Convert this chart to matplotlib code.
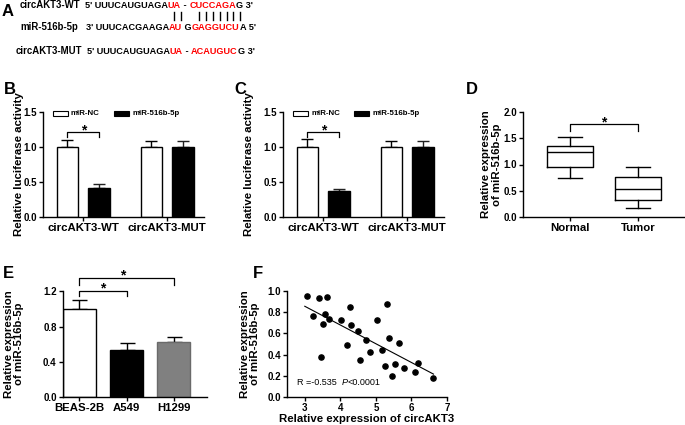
import matplotlib
matplotlib.use('Agg')
import matplotlib.pyplot as plt
from matplotlib.patches import Rectangle
from matplotlib.lines import Line2D
import numpy as np

# ---------------- data ----------------
# Panel A sequences (text segments, colour flag: 1 = red)
seq_wt = [("5' UUUCAUGUAGA", 0), ("UA", 1), (" - ", 0), ("CUCCAGA", 1), ("G 3'", 0)]
seq_mir = [("3' UUUCACGAAGA", 0), ("AU", 1), (" G", 0), ("GAGGUCU", 1), ("A 5'", 0)]
seq_mut = [("5' UUUCAUGUAGA", 0), ("UA", 1), (" - ", 0), ("ACAUGUC", 1), ("G 3'", 0)]
row_names = ["circAKT3-WT", "miR-516b-5p", "circAKT3-MUT"]

# Panels B / C
groups = ['circAKT3-WT', 'circAKT3-MUT']
legend_labels = ['miR-NC', 'miR-516b-5p']
b_nc = [1.0, 1.0]
b_nc_err = [0.095, 0.085]
b_mir = [0.41, 1.0]
b_mir_err = [0.06, 0.09]
c_nc = [1.0, 1.0]
c_nc_err = [0.115, 0.085]
c_mir = [0.375, 1.0]
c_mir_err = [0.025, 0.09]

# Panel D (box plot stats)
d_groups = ['Normal', 'Tumor']
d_whislo = [0.75, 0.18]
d_q1 = [0.95, 0.33]
d_med = [1.24, 0.54]
d_q3 = [1.35, 0.76]
d_whishi = [1.53, 0.95]

# Panel E
e_groups = ['BEAS-2B', 'A549', 'H1299']
e_vals = [1.0, 0.53, 0.63]
e_err = [0.10, 0.085, 0.055]

# Panel F
f_x = [3.06, 3.24, 3.40, 3.56, 3.62, 3.50, 3.67, 3.46, 4.02, 4.27, 4.31, 4.20, 4.50, 4.55,
       4.71, 4.84, 5.04, 5.18, 5.26, 5.32, 5.37, 5.46, 5.54, 5.66, 5.80, 6.10, 6.19, 6.62]
f_y = [0.95, 0.765, 0.93, 0.78, 0.94, 0.69, 0.74, 0.38, 0.73, 0.845, 0.675, 0.49, 0.625, 0.35,
       0.535, 0.42, 0.725, 0.44, 0.29, 0.875, 0.555, 0.20, 0.315, 0.51, 0.27, 0.24, 0.325, 0.18]
fit_x = [3.0, 6.62]
fit_y = [0.856, 0.216]
r_text = "R =-0.535  "
p_text = "<0.0001"

# ---------------- style ----------------
plt.rcParams['font.family'] = ['Liberation Sans', 'DejaVu Sans']
plt.rcParams['font.weight'] = 'bold'
plt.rcParams['axes.labelweight'] = 'bold'
plt.rcParams['axes.linewidth'] = 1.0

W, H = 685, 425
fig = plt.figure(figsize=(6.85, 4.25), dpi=100)


def fx(x):
    return x / W


def fy(y):
    return 1 - y / H


def add_ax(l, t, r, b):
    return fig.add_axes([fx(l), fy(b), (r - l) / W, (b - t) / H])


def style(ax):
    for s in ['top', 'right']:
        ax.spines[s].set_visible(False)
    ax.tick_params(direction='out', length=3, width=1.0, labelsize=7, pad=1.5)


def ftext(x, y, s, **kw):
    return fig.text(fx(x), fy(y), s, **kw)


def chain(x, y, segs, **kw):
    """Draw text segments one after another, starting at pixel (x, y)."""
    prev = None
    for s, col, extra in segs:
        k = dict(kw)
        k.update(extra)
        if prev is None:
            prev = ftext(x, y, s, ha='left', va='bottom', color=col, **k)
        else:
            prev = fig.text(0, 0, s, ha='left', va='bottom', color=col, **k)
            prev_ref = chain.last
            prev.set_transform(matplotlib.transforms.IdentityTransform())
            prev.set_position((0, 0))
            ann = fig.add_artist(matplotlib.text.Annotation(
                s, xy=(1, 0), xycoords=prev_ref, ha='left', va='bottom', color=col, **k))
            prev.remove()
            prev = ann
        chain.last = prev
    return prev


chain.last = None

# ---------------- Panel A ----------------
ftext(7.5, 11, 'A', fontsize=12, ha='center', va='center')
rows = [(seq_wt, 5, 20, 85), (seq_mir, 27, 20, 86), (seq_mut, 51, 16, 87)]
for (segs, yy, xn, xs), name in zip(rows, row_names):
    ftext(xn, yy, name, fontsize=6.9, ha='left', va='center')
    chain(xs, yy + 5, [(s, '#ff0000' if red else 'black', {}) for s, red in segs],
          fontsize=6.6)
for xv in [174, 181, 199, 206, 213, 220, 227, 233, 240]:
    fig.add_artist(Line2D([fx(xv), fx(xv)], [fy(11.7), fy(20)], color='black', lw=1.0))


# ---------------- Panels B, C ----------------
def lucif(ax, nc, nc_err, mir, mir_err):
    style(ax)
    x = np.arange(len(groups))
    off, w = 0.188, 0.257
    ax.bar(x - off, nc, w, color='white', edgecolor='black', lw=1.0, zorder=2)
    ax.bar(x + off, mir, w, color='black', edgecolor='black', lw=1.0, zorder=2)
    ax.errorbar(x - off, nc, yerr=[np.zeros(len(nc)), nc_err], fmt='none', ecolor='black',
                elinewidth=1.0, capsize=4.3, capthick=1.0, zorder=1)
    ax.errorbar(x + off, mir, yerr=[np.zeros(len(mir)), mir_err], fmt='none', ecolor='#222222',
                elinewidth=1.0, capsize=4.3, capthick=1.0, zorder=1)
    ax.set_xlim(-0.48, 1.44)
    ax.set_ylim(0, 1.5)
    ax.set_yticks([0, 0.5, 1.0, 1.5])
    ax.set_yticklabels(['0.0', '0.5', '1.0', '1.5'])
    ax.set_xticks(x)
    ax.set_xticklabels(groups, fontsize=8.2)
    ax.plot([-off, -off, off, off], [1.14, 1.22, 1.22, 1.14], color='black', lw=0.9,
            clip_on=False)
    ax.text(0, 1.175, '*', ha='center', va='baseline', fontsize=10)


axB = add_ax(43, 112, 204, 217)
lucif(axB, b_nc, b_nc_err, b_mir, b_mir_err)
axC = add_ax(283, 112, 444, 217)
lucif(axC, c_nc, c_nc_err, c_mir, c_mir_err)

for dx, lab in [(0, 'B'), (230, 'C')]:
    ftext(10 + dx, 89, lab, fontsize=12, ha='center', va='center')
    ftext(19 + dx, 164.5, 'Relative luciferase activity', fontsize=8.2, rotation=90,
          ha='center', va='center')

for x0, x1, xt0, x2, x3, xt1 in [(53.3, 68.3, 70.7, 114.3, 129.3, 132.3),
                                 (293.3, 308.3, 311, 354, 369.3, 372.3)]:
    fig.add_artist(Rectangle((fx(x0), fy(115.7)), (x1 - x0) / W, 5 / H, facecolor='white',
                             edgecolor='black', lw=0.8, transform=fig.transFigure))
    fig.add_artist(Rectangle((fx(x2), fy(115.7)), (x3 - x2) / W, 5 / H, facecolor='black',
                             edgecolor='black', lw=0.8, transform=fig.transFigure))
    ftext(xt0, 113.2, legend_labels[0], fontsize=5.7, ha='left', va='center')
    ftext(xt1, 113.2, legend_labels[1], fontsize=5.7, ha='left', va='center')

# ---------------- Panel D ----------------
axD = add_ax(523, 112, 685, 217)
style(axD)
stats = [dict(med=m, q1=a, q3=b, whislo=lo, whishi=hi, fliers=[])
         for m, a, b, lo, hi in zip(d_med, d_q1, d_q3, d_whislo, d_whishi)]
axD.bxp(stats, positions=[1, 2], widths=0.68, capwidths=0.34, showfliers=False,
        boxprops=dict(lw=1.0, color='black'), whiskerprops=dict(lw=1.0, color='black'),
        capprops=dict(lw=1.0, color='black'), medianprops=dict(lw=1.0, color='black'))
axD.set_xlim(0.31, 2.69)
axD.set_ylim(0, 2.0)
axD.set_yticks([0, 0.5, 1.0, 1.5, 2.0])
axD.set_yticklabels(['0.0', '0.5', '1.0', '1.5', '2.0'])
axD.set_xticks([1, 2])
axD.set_xticklabels(d_groups, fontsize=8.2)
axD.plot([1, 1, 2, 2], [1.64, 1.78, 1.78, 1.64], color='black', lw=0.9, clip_on=False)
axD.text(1.5, 1.72, '*', ha='center', va='baseline', fontsize=10)
ftext(472, 89, 'D', fontsize=12, ha='center', va='center')
ftext(491.5, 164.5, 'Relative expression\nof miR-516b-5p', fontsize=8.2, rotation=90,
      ha='center', va='center', linespacing=1.05)

# ---------------- Panel E ----------------
axE = add_ax(63, 291.3, 207, 397)
style(axE)
xe = np.arange(len(e_groups))
axE.bar(xe, e_vals, 0.70, color=['white', 'black', '#808080'],
        edgecolor=['black', 'black', '#6a6a6a'], lw=1.0, zorder=2)
axE.errorbar(xe, e_vals, yerr=[np.zeros(3), e_err], fmt='none', ecolor='black',
             elinewidth=1.0, capsize=5.4, capthick=1.0, zorder=1)
axE.set_xlim(-0.35, 2.71)
axE.set_ylim(0, 1.2)
axE.set_yticks([0, 0.4, 0.8, 1.2])
axE.set_yticklabels(['0.0', '0.4', '0.8', '1.2'])
axE.set_xticks(xe)
axE.set_xticklabels(e_groups, fontsize=8.2)
axE.plot([0, 0, 1, 1], [1.15, 1.2, 1.2, 1.15], color='black', lw=0.9, clip_on=False)
axE.text(0.5, 1.19, '*', ha='center', va='baseline', fontsize=10, clip_on=False)
axE.plot([0, 0, 2, 2], [1.277, 1.35, 1.35, 1.277], color='black', lw=0.9, clip_on=False)
axE.text(0.92, 1.33, '*', ha='center', va='baseline', fontsize=10, clip_on=False)
ftext(8, 273, 'E', fontsize=12, ha='center', va='center')
ftext(14, 344, 'Relative expression\nof miR-516b-5p', fontsize=8.2, rotation=90,
      ha='center', va='center', linespacing=1.05)

# ---------------- Panel F ----------------
axF = add_ax(287, 291, 447, 397)
style(axF)
axF.scatter(f_x, f_y, s=14, color='black', zorder=3, clip_on=False)
axF.plot(fit_x, fit_y, color='black', lw=0.8)
axF.set_xlim(2.5, 7)
axF.set_ylim(0, 1.0)
axF.set_xticks([3, 4, 5, 6, 7])
axF.set_yticks([0, 0.2, 0.4, 0.6, 0.8, 1.0])
axF.set_yticklabels(['0.0', '0.2', '0.4', '0.6', '0.8', '1.0'])
ftext(258, 274, 'F', fontsize=12, ha='center', va='center')
ftext(250, 344, 'Relative expression\nof miR-516b-5p', fontsize=8.2, rotation=90,
      ha='center', va='center', linespacing=1.05)
ftext(367, 419, 'Relative expression of circAKT3', fontsize=8.2, ha='center', va='center')
chain(297, 387, [(r_text, 'black', {}), ('P', 'black', {'fontstyle': 'italic'}),
                 (p_text, 'black', {})], fontsize=6.5, fontweight='normal')

fig.savefig('out.png', dpi=100)
